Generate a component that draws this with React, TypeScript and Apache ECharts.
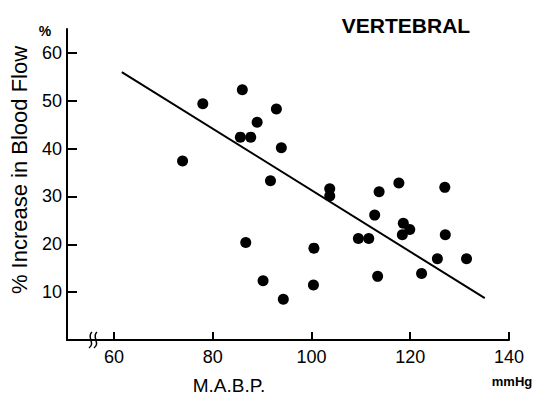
import React, { useEffect, useRef } from "react";
import * as echarts from "echarts";

const xTicks = [60, 80, 100, 120, 140];
const yTicks = [10, 20, 30, 40, 50, 60];
const mabp = [73.9, 78.0, 85.6, 86.0, 86.7, 87.7, 89.0, 90.2, 91.7, 92.9, 93.9, 94.3, 100.4, 100.5, 103.7, 103.7, 109.5, 111.6, 112.8, 113.4, 113.7, 117.7, 118.4, 118.6, 119.9, 122.3, 125.5, 127.0, 127.1, 131.4];
const flowIncrease = [37.4, 49.4, 42.4, 52.3, 20.4, 42.4, 45.5, 12.4, 33.3, 48.3, 40.2, 8.5, 11.5, 19.2, 31.6, 30.1, 21.2, 21.2, 26.1, 13.3, 31.0, 32.8, 22.0, 24.4, 23.1, 13.9, 17.0, 31.9, 22.0, 17.0];
const fitX = [61.6, 135.1];
const fitY = [56.0, 8.75];

const FONT = "Liberation Sans";

export default function App() {
  const ref = useRef<HTMLDivElement>(null);
  useEffect(() => {
    if (!ref.current) return;
    document.body.style.margin = "0";
    const chart = echarts.init(ref.current, null, { renderer: "svg" });
    const points = mabp.map((x, i) => [x, flowIncrease[i]]);
    const fit = fitX.map((x, i) => [x, fitY[i]]);
    chart.setOption({
      animation: false,
      backgroundColor: "#fff",
      grid: { left: 67, right: 33, top: 29, bottom: 54 },
      xAxis: {
        type: "value",
        min: 50.5,
        max: 140,
        splitLine: { show: false },
        axisLine: { show: true, lineStyle: { color: "#000", width: 2 } },
        axisTick: { show: true, inside: true, length: 8, customValues: xTicks, lineStyle: { color: "#000", width: 2 } },
        axisLabel: { customValues: xTicks, color: "#000", fontFamily: FONT, fontSize: 18, margin: 8 },
      },
      yAxis: {
        type: "value",
        min: 0,
        max: 65,
        splitLine: { show: false },
        axisLine: { show: true, lineStyle: { color: "#000", width: 2 } },
        axisTick: { show: true, inside: true, length: 10, customValues: yTicks, lineStyle: { color: "#000", width: 2 } },
        axisLabel: { customValues: yTicks, color: "#000", fontFamily: FONT, fontSize: 18, margin: 5 },
      },
      series: [
        {
          type: "line",
          data: fit,
          symbol: "none",
          lineStyle: { color: "#000", width: 2 },
        },
        {
          type: "scatter",
          data: points,
          symbol: "circle",
          symbolSize: 11,
          itemStyle: { color: "#000", opacity: 1 },
        },
      ],
      graphic: [
        { type: "rect", shape: { x: 89, y: 336, width: 9, height: 8 }, style: { fill: "#fff" } },
        { type: "bezierCurve", shape: { x1: 92, y1: 332, cpx1: 86, cpy1: 337, cpx2: 96, cpy2: 343, x2: 89, y2: 348 }, style: { stroke: "#000", lineWidth: 1.5, fill: "none" } },
        { type: "bezierCurve", shape: { x1: 97, y1: 332, cpx1: 91, cpy1: 337, cpx2: 101, cpy2: 343, x2: 94, y2: 348 }, style: { stroke: "#000", lineWidth: 1.5, fill: "none" } },
        { type: "text", x: 45, y: 31, style: { text: "%", font: `bold 14px '${FONT}'`, fill: "#000", textAlign: "center", textVerticalAlign: "middle" } },
        { type: "text", x: 19, y: 170, rotation: Math.PI / 2, style: { text: "% Increase in Blood Flow", font: `22px '${FONT}'`, fill: "#000", textAlign: "center", textVerticalAlign: "middle" } },
        { type: "text", x: 406, y: 25, style: { text: "VERTEBRAL", font: `bold 21px '${FONT}'`, fill: "#000", textAlign: "center", textVerticalAlign: "middle" } },
        { type: "text", x: 229, y: 385, style: { text: "M.A.B.P.", font: `19px '${FONT}'`, fill: "#000", textAlign: "center", textVerticalAlign: "middle" } },
        { type: "text", x: 512, y: 381, style: { text: "mmHg", font: `bold 13px '${FONT}'`, fill: "#000", textAlign: "center", textVerticalAlign: "middle" } },
      ],
    });
    return () => chart.dispose();
  }, []);
  return <div ref={ref} style={{ width: 542, height: 394 }} />;
}
